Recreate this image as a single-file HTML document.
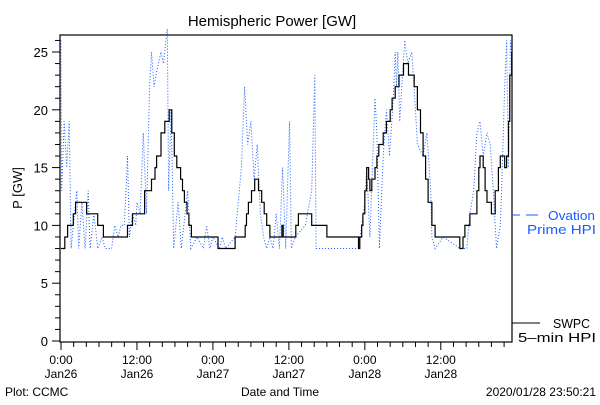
<!DOCTYPE html>
<html><head><meta charset="utf-8"><style>
html,body{margin:0;padding:0;background:#fff;}
svg text{font-family:"Liberation Sans",sans-serif;}
</style></head><body>
<svg id="chart" width="600" height="400" xmlns="http://www.w3.org/2000/svg">
<rect x="0" y="0" width="600" height="400" fill="#fff"/>
<text x="272" y="26" font-size="15" text-anchor="middle">Hemispheric Power [GW]</text>
<text transform="translate(22,188) rotate(-90)" font-size="13" text-anchor="middle">P [GW]</text>
<text x="280" y="396" font-size="12" text-anchor="middle">Date and Time</text>
<text x="5" y="396" font-size="12">Plot: CCMC</text>
<text x="596" y="396" font-size="12" text-anchor="end">2020/01/28 23:50:21</text>
<g id="axes"></g>
<g id="series"></g>
<line x1="512" y1="215" x2="520" y2="215" stroke="#1a5cff"/>
<line x1="526" y1="215" x2="538" y2="215" stroke="#1a5cff"/>
<text x="548" y="220" font-size="13" fill="#1a5cff" textLength="47" lengthAdjust="spacingAndGlyphs">Ovation</text>
<text x="527" y="234" font-size="13" fill="#1a5cff" textLength="69" lengthAdjust="spacingAndGlyphs">Prime HPI</text>
<line x1="512" y1="323" x2="540" y2="323" stroke="#000"/>
<text x="553" y="328" font-size="13" textLength="37" lengthAdjust="spacingAndGlyphs">SWPC</text>
<text x="518" y="342" font-size="13" textLength="78" lengthAdjust="spacingAndGlyphs">5–min HPI</text>
</svg>
<script>
const xTickHours=[0,12,24,36,48,60];
const xTickTimes=["0:00","12:00","0:00","12:00","0:00","12:00"];
const xTickDates=["Jan26","Jan26","Jan27","Jan27","Jan28","Jan28"];
const yTicks=[0,5,10,15,20,25];
const swpcHours=[0,0.6,1.05,1.95,2.3,4.05,5.8,6.7,7.5,10.5,11.3,13.2,14.3,14.85,15.1,15.8,16.4,17.1,17.5,17.9,18.3,18.9,19.2,19.5,19.9,20.2,20.6,24.8,27.5,29.1,29.3,29.6,30.1,30.6,31.2,31.7,32.1,32.5,33,34.9,35.1,37.1,37.5,39.6,42,47,47.2,47.5,47.7,48,48.3,48.6,48.8,49.1,49.6,49.9,50.2,50.9,51.4,52,52.3,52.8,53.4,54.1,54.6,54.9,55.8,56.3,56.8,57.2,57.6,58,58.6,59.1,60.4,63,63.5,63.8,64.6,65.7,66,66.2,66.7,67,67.3,68,68.3,68.6,69.1,69.4,69.6,70.1,70.4,70.7,70.9,71.2];
const swpcValues=[8,9,10,11,12,11,10,9,9,10,11,13,14,15,16,18,19,20,18,16,15,14,13,12,11,10,9,8,9,10,11,12,13,14,13,12,11,10,9,10,9,10,11,10,9,8,9,10,11,13,15,14,13,14,15,16,17,18,19,20,21,22,23,24,24,23,22,20,18,16,14,12,10,9,9,8,9,10,11,13,15,16,15,13,12,11,11,13,15,16,16,15,16,19,23,25];
const ovHours=[0,0.1,0.5,0.9,1.3,1.6,2.5,2.8,3.3,3.8,4.3,4.6,5.2,5.8,6.5,7,8,8.5,9,9.5,10,10.5,10.8,11.3,11.8,12,12.5,13,13.5,14,14.3,14.7,15,15.4,15.8,16.2,16.8,17,17.4,17.8,18.5,19,20,20.5,21.5,22.5,23,23.5,24,25,25.5,26,27.5,28.5,29,29.5,30,30.5,31,31.5,32,32.5,33,33.5,34,34.5,35,35.5,36.1,36.4,37,38.6,39.6,40.1,40.3,47,48,48.3,48.8,49.6,49.9,50.3,50.9,51.4,51.9,52.5,52.8,53,53.2,53.5,54.3,54.8,55.4,55.9,56.3,57.2,57.8,58.4,58.6,59.1,60.4,63,64.1,64.6,65.2,65.7,66.2,66.7,67.3,67.8,68.3,68.8,69.4,69.6,70.1,70.4,70.7,71,71.3];
const ovValues=[26,13,19,15,19,8,13,8,12,8,13,8,11,8,9,8,8,10,9,10,10,16,9,11,10,12,11,18,11,22,25,22,23,24,25,24,27,13,20,8,12,8,13,8,9,8,10,8,9,8,9,8,9,15,22,17,19,14,17,11,9,8,9,8,11,8,15,8,19,8,9,10,13,23,8,8,12,15,9,21,18,8,16,20,16,21,25,22,25,19,26,24,25,21,17,16,18,13,9,8,9,8,8,11,13,18,19,16,18,17,13,8,10,13,22,26,15,26,24];
const X0=61,PXH=6.33,Y0=341,PXV=11.56,L=60,R=512,T=35,B=342;
const xs=h=>X0+h*PXH, ys=v=>Y0-v*PXV;
const NS="http://www.w3.org/2000/svg";
const ax=document.getElementById('axes'), se=document.getElementById('series');
function mk(tag,attrs,parent){const e=document.createElementNS(NS,tag);for(const k in attrs)e.setAttribute(k,attrs[k]);parent.appendChild(e);return e;}
const frame=mk('rect',{x:L,y:T,width:R-L,height:B-T,fill:'none',stroke:'#000','stroke-width':1.2},ax);


for(let v=0;v<=26;v++){const t=mk('line',{x1:v%5?55:52,x2:L,y1:ys(v),y2:ys(v),stroke:'#000'},ax);

}
yTicks.forEach(v=>{const t=mk('text',{x:48,y:ys(v)+5,'font-size':13,'text-anchor':'end'},ax);t.textContent=v;

});
for(let h=0;h<=70;h+=2){const t=mk('line',{x1:xs(h),x2:xs(h),y1:B,y2:B+(h%12?5:8),stroke:'#000'},ax);

}
xTickHours.forEach((h,i)=>{const t=mk('text',{x:xs(h),y:364,'font-size':12,'text-anchor':'middle'},ax);t.textContent=xTickTimes[i];


const d=mk('text',{x:xs(h),y:378,'font-size':12,'text-anchor':'middle'},ax);d.textContent=xTickDates[i];

});
let op=ovHours.map((h,i)=>xs(h).toFixed(1)+','+ys(ovValues[i]).toFixed(1)).join(' ');
const ov=mk('polyline',{points:op,fill:'none',stroke:'#1a5cff','stroke-width':1,'stroke-dasharray':'1,2'},se);


let sp=[];swpcHours.forEach((h,i)=>{if(i>0)sp.push(xs(h).toFixed(1)+','+ys(swpcValues[i-1]).toFixed(1));sp.push(xs(h).toFixed(1)+','+ys(swpcValues[i]).toFixed(1));});
const sw=mk('polyline',{points:sp.join(' '),fill:'none',stroke:'#000','stroke-width':1.2},se);


</script>
</body></html>
